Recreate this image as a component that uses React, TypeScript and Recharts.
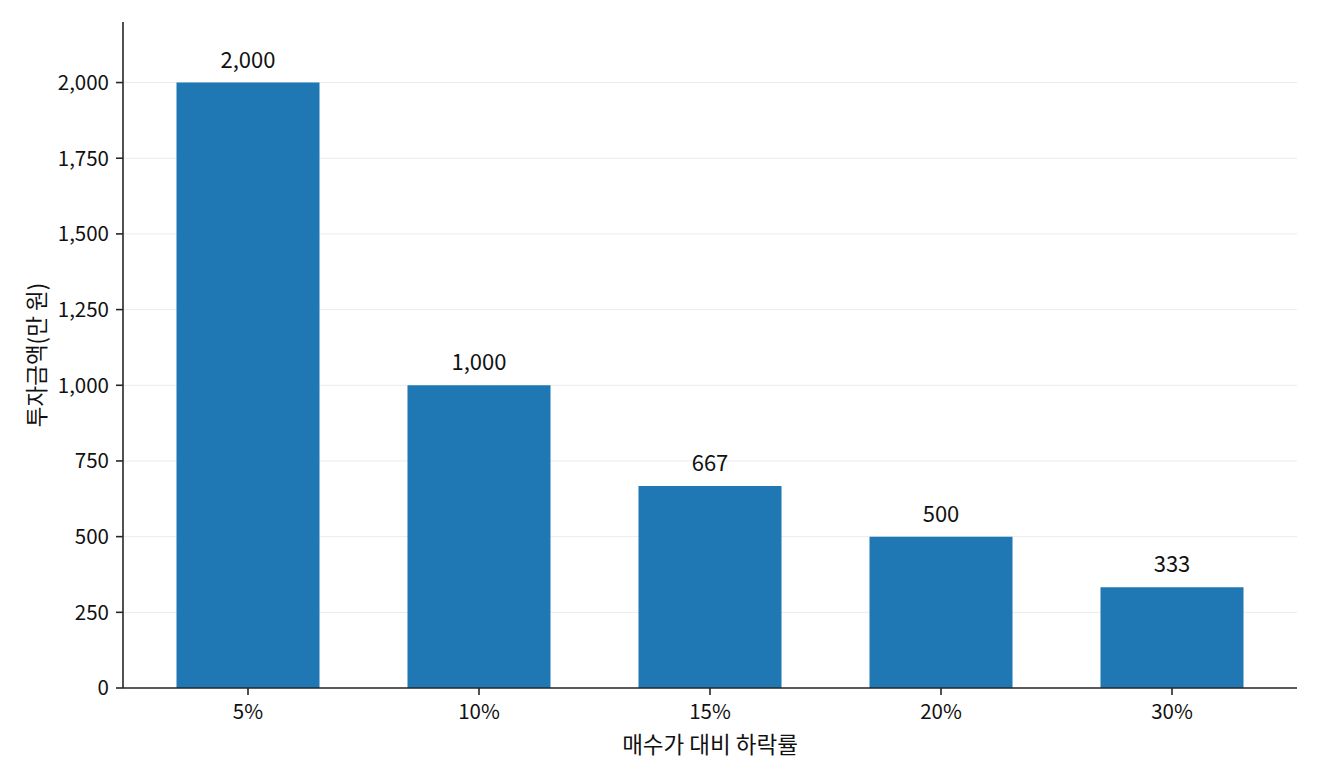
import React from 'react';
import { BarChart, Bar, XAxis, YAxis, CartesianGrid, LabelList, Label } from 'recharts';

const categories = ['5%', '10%', '15%', '20%', '30%'];
const amounts = [2000, 1000, 667, 500, 333];
const yTicks = [0, 250, 500, 750, 1000, 1250, 1500, 1750, 2000];

const data = categories.map((c, i) => ({ name: c, value: amounts[i] }));

const FONT = '"Noto Sans CJK KR", "Noto Sans", sans-serif';
const AXIS = '#262626';

const fmt = (v: number) => Number(v).toLocaleString('en-US');

export default function App() {
  return (
    <div style={{ position: 'absolute', left: 0, top: 0, width: 1320, height: 780, background: '#fff', fontFamily: FONT }}>
      <BarChart
        width={1320}
        height={780}
        data={data}
        margin={{ top: 22, right: 23, bottom: 32, left: 0 }}
      >
        <CartesianGrid vertical={false} horizontalValues={yTicks} stroke="#ebebeb" strokeWidth={1} />
        <XAxis
          dataKey="name"
          height={60}
          padding={{ left: 9.5, right: 9.5 }}
          axisLine={{ stroke: AXIS, strokeWidth: 1.6 }}
          tickLine={{ stroke: AXIS, strokeWidth: 1.6 }}
          tickSize={7}
          tickMargin={9}
          tick={{ fill: '#111', fontSize: 20.5, fontFamily: FONT }}
        >
          <Label
            content={(props: any) => {
              const vb = props.viewBox || {};
              return (
                <text
                  x={vb.x + vb.width / 2}
                  y={vb.y + 55}
                  textAnchor="middle"
                  dominantBaseline="central"
                  fill="#111"
                  fontSize={22.5}
                  fontFamily={FONT}
                >
                  매수가 대비 하락률
                </text>
              );
            }}
          />
        </XAxis>
        <YAxis
          width={123}
          domain={[0, 2200]}
          ticks={yTicks}
          tickFormatter={fmt}
          axisLine={{ stroke: AXIS, strokeWidth: 1.6 }}
          tickLine={{ stroke: AXIS, strokeWidth: 1.6 }}
          tickSize={7}
          tickMargin={7}
          tick={{ fill: '#111', fontSize: 20.5, fontFamily: FONT }}
        >
          <Label
            content={(props: any) => {
              const vb = props.viewBox || {};
              const cx = vb.x + 35;
              const cy = vb.y + vb.height / 2;
              return (
                <text
                  x={cx}
                  y={cy}
                  transform={`rotate(-90, ${cx}, ${cy})`}
                  textAnchor="middle"
                  dominantBaseline="central"
                  fill="#111"
                  fontSize={22.5}
                  fontFamily={FONT}
                >
                  투자금액(만 원)
                </text>
              );
            }}
          />
        </YAxis>
        <Bar dataKey="value" fill="#1f77b4" barSize={143} isAnimationActive={false}>
          <LabelList
            dataKey="value"
            position="top"
            offset={15}
            formatter={(v: any) => fmt(v)}
            style={{ fill: '#111', fontSize: 22, fontFamily: FONT }}
          />
        </Bar>
      </BarChart>
    </div>
  );
}
